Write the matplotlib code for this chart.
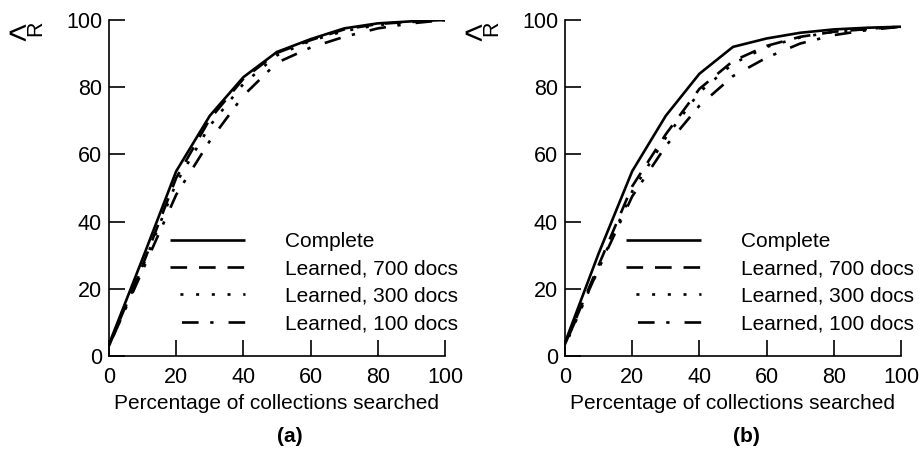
import matplotlib
matplotlib.use("Agg")
import matplotlib.pyplot as plt

plt.rcParams['font.family'] = ['Liberation Sans', 'DejaVu Sans']

# percentage of collections searched
pct = [0, 10, 20, 30, 40, 50, 60, 70, 80, 90, 100]

# panel (a)
complete_a = [3.5, 29, 55, 71.5, 83, 90.5, 94.3, 97.5, 99, 99.6, 100]
learned700_a = [3, 27, 53, 70.5, 82.5, 90.2, 94, 97.2, 98.8, 99.5, 100]
learned300_a = [3, 26.5, 51.5, 68.5, 81, 89.5, 93.8, 96.7, 98.5, 99.4, 100]
learned100_a = [3, 25.5, 48, 64, 77.5, 87.3, 91.8, 95, 97.5, 99, 100]

# panel (b)
complete_b = [4, 30.5, 55, 71.5, 84, 92, 94.5, 96.2, 97.2, 97.7, 98]
learned700_b = [3.5, 27, 50.5, 66, 79.5, 87.8, 92.3, 95, 96.5, 97.3, 98]
learned300_b = [3, 26, 49, 65, 78.5, 87, 92, 94.8, 96.5, 97.4, 98]
learned100_b = [3.5, 26, 47.5, 62.5, 74.5, 83.3, 88.8, 93, 95.5, 97, 98]

labels = ['Complete', 'Learned, 700 docs', 'Learned, 300 docs', 'Learned, 100 docs']
ticks = [0, 20, 40, 60, 80, 100]

styles = [
    dict(linestyle='-'),
    dict(linestyle=(0, (6.3, 4.5))),
    dict(linestyle=(2.2, (1.15, 4.8))),
    dict(linestyle=(13.3, (6.3, 4.4, 1.25, 5.7))),
]

FS = 15
TICK_FS = 15.5
LW = 1.9

fig = plt.figure(figsize=(9.19, 4.49), dpi=100)
ax_a = fig.add_axes([109 / 919, 93 / 449, 336 / 919, 336 / 449])
ax_b = fig.add_axes([565 / 919, 93 / 449, 336 / 919, 336 / 449])


def draw_panel(ax, series, tag, tag_x):
    for ys, lab, st in zip(series, labels, styles):
        ax.plot(pct, ys, color='black', lw=LW, label=lab,
                dash_capstyle='butt', solid_capstyle='butt', **st)
    ax.set_xlim(0, 100)
    ax.set_ylim(0, 100)
    ax.set_xticks(ticks)
    ax.set_yticks(ticks)
    for side in ['top', 'right']:
        ax.spines[side].set_visible(False)
    for side in ['left', 'bottom']:
        ax.spines[side].set_linewidth(1.2)
    ax.tick_params(direction='in', length=11.5, width=1.2,
                   labelsize=TICK_FS, colors='black')
    ax.tick_params(axis='x', pad=8)
    ax.tick_params(axis='y', pad=5)
    ax.set_xlabel('Percentage of collections searched', fontsize=FS, labelpad=4)
    ax.legend(loc='upper left', bbox_to_anchor=(0.1815, 0.369),
              frameon=False, fontsize=FS, handlelength=3.6,
              handletextpad=1.92, labelspacing=0.4,
              borderpad=0, borderaxespad=0)
    fig.text(tag_x / 919, 1 - 437 / 449, tag, fontsize=FS, fontweight='bold',
             ha='center', va='center')


draw_panel(ax_a, [complete_a, learned700_a, learned300_a, learned100_a], '(a)', 290)
draw_panel(ax_b, [complete_b, learned700_b, learned300_b, learned100_b], '(b)', 746)

# R-hat label, rotated, at the top left of each panel
for x0 in [0, 456]:
    fig.text((x0 + 17) / 919, 1 - 36 / 449, '<', fontsize=24,
             ha='center', va='center')
    fig.text((x0 + 36) / 919, 1 - 28 / 449, 'R', fontsize=15.5, rotation=90,
             ha='center', va='center')

fig.savefig('out.png', dpi=100)
